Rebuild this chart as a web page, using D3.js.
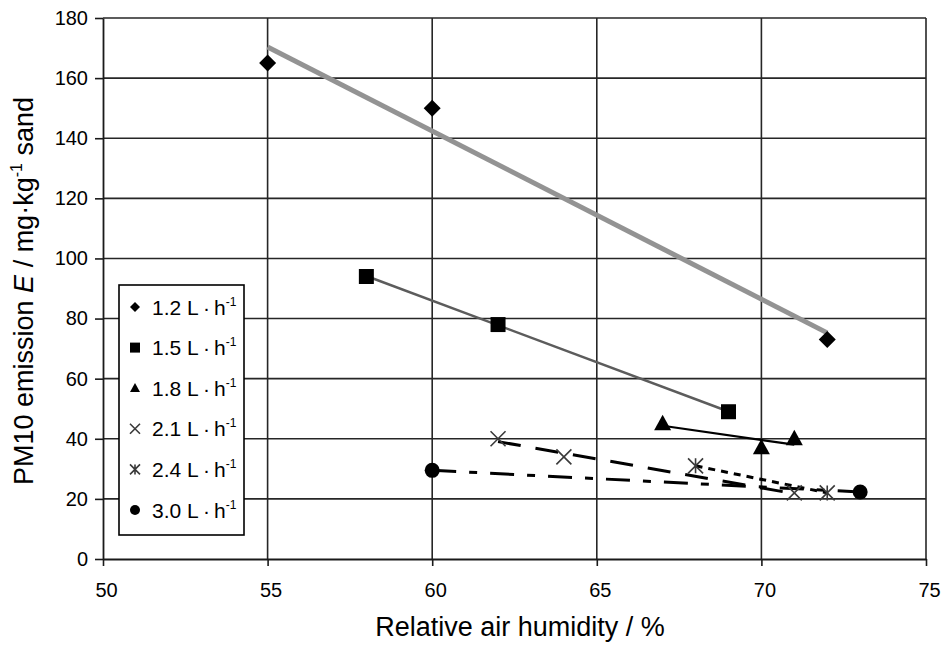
<!DOCTYPE html>
<html>
<head>
<meta charset="utf-8">
<script src="https://cdn.jsdelivr.net/npm/d3@7"></script>
<style>
  html, body { margin: 0; padding: 0; background: #fff; }
  svg { display: block; }
  text { font-family: "Liberation Sans", Arial, sans-serif; fill: #000; }
</style>
</head>
<body>
<svg id="chart" width="947" height="646"></svg>
<script>
// PM10 emission vs. relative air humidity, one series per sand flow rate
const humidityTicks = [50, 55, 60, 65, 70, 75];
const emissionTicks = [0, 20, 40, 60, 80, 100, 120, 140, 160, 180];

const flowRates = ["1.2", "1.5", "1.8", "2.1", "2.4", "3.0"];

const humidity12 = [55, 60, 72];
const emission12 = [165, 150, 73];

const humidity15 = [58, 62, 69];
const emission15 = [94, 78, 49];

const humidity18 = [67, 70, 71];
const emission18 = [45, 37, 40];

const humidity21 = [62, 64, 71];
const emission21 = [40, 34, 22];

const humidity24 = [68, 72];
const emission24 = [31, 22];

const humidity30 = [60, 73];
const emission30 = [29.5, 22.3];

// drawing style per flow rate
const styles = {
  "1.2": { marker: "diamond",  line: "#939393", width: 5,   dash: null },
  "1.5": { marker: "square",   line: "#5c5c5c", width: 2.5, dash: null },
  "1.8": { marker: "triangle", line: "#000",    width: 2.2, dash: null },
  "2.1": { marker: "cross",    line: "#000",    width: 3,   dash: "23,15" },
  "2.4": { marker: "asterisk", line: "#000",    width: 3,   dash: "7,6" },
  "3.0": { marker: "circle",   line: "#000",    width: 3,   dash: "24,13,8,13" }
};

const seriesTable = [
  [humidity12, emission12], [humidity15, emission15], [humidity18, emission18],
  [humidity21, emission21], [humidity24, emission24], [humidity30, emission30]
].map(([xs, ys], i) => ({
  rate: flowRates[i],
  points: xs.map((h, j) => ({ h, e: ys[j] })),
  style: styles[flowRates[i]]
}));

const svg = d3.select("#chart");
const plotLeft = 103, plotRight = 926, plotTop = 18, plotBottom = 559;

const x = d3.scaleLinear().domain([50, 75]).range([plotLeft, plotRight]);
const y = d3.scaleLinear().domain([0, 180]).range([plotBottom, plotTop]);

// grid
const grid = svg.append("g").attr("stroke", "#262626").attr("stroke-width", 1.6);
grid.selectAll(".gx").data(humidityTicks.slice(1)).join("line")
  .attr("x1", d => x(d)).attr("x2", d => x(d))
  .attr("y1", y(180)).attr("y2", y(0));
grid.selectAll(".gy").data(emissionTicks.slice(1)).join("line")
  .attr("x1", x(50)).attr("x2", x(75))
  .attr("y1", d => y(d)).attr("y2", d => y(d));

// axes
const yAxis = svg.append("g")
  .attr("transform", `translate(${plotLeft},0)`)
  .call(d3.axisLeft(y).tickValues(emissionTicks).tickSizeInner(8).tickSizeOuter(0).tickPadding(7));
const xAxis = svg.append("g")
  .attr("transform", `translate(0,${plotBottom})`)
  .call(d3.axisBottom(x).tickValues(humidityTicks).tickSizeInner(7).tickSizeOuter(0).tickPadding(17));
[yAxis, xAxis].forEach(a => {
  a.selectAll("path.domain").attr("stroke", "#1a1a1a").attr("stroke-width", 1.8);
  a.selectAll(".tick line").attr("stroke", "#1a1a1a").attr("stroke-width", 1.6);
  a.selectAll(".tick text").attr("font-size", 20).attr("fill", "#000")
    .style("font-family", '"Liberation Sans", Arial, sans-serif');
});
xAxis.selectAll(".tick text").attr("dx", 3);

// least-squares trend line across each series' humidity range
function trend(points) {
  const mx = d3.mean(points, p => p.h), my = d3.mean(points, p => p.e);
  const sxy = d3.sum(points, p => (p.h - mx) * (p.e - my));
  const sxx = d3.sum(points, p => (p.h - mx) ** 2);
  const slope = sxy / sxx;
  const [h0, h1] = d3.extent(points, p => p.h);
  return [{ h: h0, e: my + slope * (h0 - mx) }, { h: h1, e: my + slope * (h1 - mx) }];
}

const lineGen = d3.line().x(d => x(d.h)).y(d => y(d.e));

// marker shapes, r = half width
function markerPath(kind, r) {
  switch (kind) {
    case "diamond": return `M0,${-r}L${r},0L0,${r}L${-r},0Z`;
    case "square": return `M${-r},${-r}H${r}V${r}H${-r}Z`;
    case "triangle": return `M0,${-r * 1.05}L${r},${r * 0.75}L${-r},${r * 0.75}Z`;
    case "circle": return d3.symbol(d3.symbolCircle, Math.PI * r * r)();
    case "cross": return `M${-r},${-r}L${r},${r}M${-r},${r}L${r},${-r}`;
    case "asterisk": return `M${-r},${-r}L${r},${r}M${-r},${r}L${r},${-r}M0,${-r}L0,${r}`;
  }
}
function drawMarker(sel, kind, r) {
  const open = kind === "cross" || kind === "asterisk";
  sel.attr("d", markerPath(kind, r))
    .attr("fill", open ? "none" : "#000")
    .attr("stroke", open ? "#3a3a3a" : "none")
    .attr("stroke-width", open ? 1.6 : 0);
}
const markerRadius = { diamond: 8.5, square: 7.5, triangle: 8.5, circle: 7.5, cross: 7.5, asterisk: 7.5 };

const plot = svg.append("g");
seriesTable.forEach(s => {
  plot.append("path")
    .attr("d", lineGen(trend(s.points)))
    .attr("fill", "none")
    .attr("stroke", s.style.line)
    .attr("stroke-width", s.style.width)
    .attr("stroke-dasharray", s.style.dash);
});
seriesTable.forEach(s => {
  plot.selectAll(null).data(s.points).join("path")
    .attr("transform", d => `translate(${x(d.h)},${y(d.e)})`)
    .each(function () { drawMarker(d3.select(this), s.style.marker, markerRadius[s.style.marker]); });
});

// legend
const legend = svg.append("g");
legend.append("rect")
  .attr("x", 119).attr("y", 285).attr("width", 125).attr("height", 250)
  .attr("fill", "#fff").attr("stroke", "#000").attr("stroke-width", 1.6);
const rowY = d3.scaleLinear().domain([0, flowRates.length - 1]).range([307, 510]);
flowRates.forEach((rate, i) => {
  const kind = styles[rate].marker;
  legend.append("path")
    .attr("transform", `translate(135,${rowY(i)})`)
    .call(sel => drawMarker(sel, kind, 5));
  const t = legend.append("text")
    .attr("x", 152).attr("y", rowY(i) + 7.5)
    .attr("font-size", 21);
  t.append("tspan").text(`${rate} L\u2009·\u2009h`);
  t.append("tspan").attr("font-size", 12).attr("dy", -9).text("-1");
});

// axis titles
svg.append("text")
  .attr("x", 520).attr("y", 636)
  .attr("text-anchor", "middle").attr("font-size", 27)
  .text("Relative air humidity / %");

const yTitle = svg.append("text")
  .attr("transform", "translate(33,291) rotate(-90)")
  .attr("text-anchor", "middle").attr("font-size", 27);
yTitle.append("tspan").text("PM10 emission ");
yTitle.append("tspan").attr("font-style", "italic").text("E");
yTitle.append("tspan").text(" / mg·kg");
yTitle.append("tspan").attr("font-size", 16).attr("dy", -11).text("-1");
yTitle.append("tspan").attr("dy", 11).text(" sand");
</script>
</body>
</html>
